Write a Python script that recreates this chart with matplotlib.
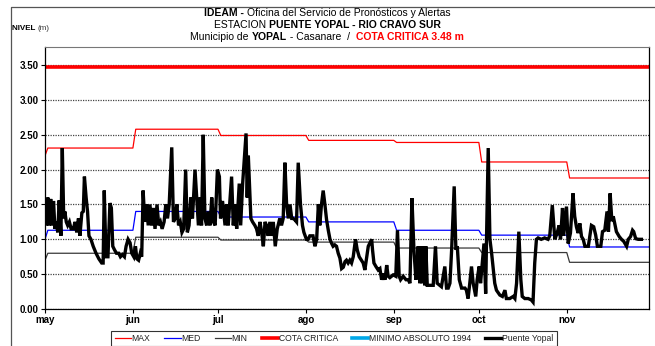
import numpy as np
import matplotlib
matplotlib.use('Agg')
import matplotlib.pyplot as plt
from matplotlib.lines import Line2D

plt.rcParams['font.family'] = ['Liberation Sans', 'DejaVu Sans']

# months shown on the x axis and their lengths in days
meses = ['may', 'jun', 'jul', 'ago', 'sep', 'oct', 'nov']
dias_mes = [31, 30, 31, 31, 30, 31, 30]

# monthly reference levels (abr, may ... nov), in m
nivel_max = [2.20, 2.31, 2.58, 2.49, 2.42, 2.39, 2.11, 1.88]
nivel_med = [1.00, 1.13, 1.40, 1.32, 1.25, 1.13, 1.06, 0.89]
nivel_min = [0.70, 0.80, 1.03, 0.99, 0.96, 0.875, 0.81, 0.67]
cota_critica = 3.48

# Puente Yopal readings: day offset from 1 may, level in m
dias = [0, 0.5, 1, 1.5, 2, 2.5, 3, 3.5, 4, 4.5, 5, 5.6, 6.1, 6.6, 7, 7.5, 8, 8.6, 9.2, 10,
        10.6, 11.2, 11.8, 12.3, 13, 13.5, 13.9, 14.5, 15, 15.5, 16.2, 17, 18, 19, 20, 20.5,
        20.9, 21.5, 22.2, 22.9, 23.4, 23.9, 24.5, 25.2, 26, 26.6, 27.3, 28, 28.6, 29.3, 30,
        30.6, 31.3, 31.9, 32.4, 33, 33.6, 34.1, 34.6, 35.2, 35.8, 36.4, 37, 37.6, 38.2, 38.8,
        39.5, 40.1, 40.7, 41.3, 42, 42.6, 43.2, 43.8, 44.7, 45.3, 45.9, 46.5, 47.1, 47.7,
        48.3, 48.9, 49.6, 50.2, 50.8, 51.4, 52, 52.9, 53.5, 54.1, 54.7, 55.2, 55.8, 56.4, 57,
        57.6, 58.2, 58.8, 59.4, 60, 60.8, 61.5, 61.9, 62.6, 63.5, 64, 64.6, 65.8, 66.4, 67,
        67.6, 68.5, 69, 69.7, 70.2, 70.9, 71.3, 71.7, 72.3, 72.6, 73.2, 74, 74.6, 75.2, 75.8,
        76.4, 77, 77.6, 78.1, 78.7, 79.3, 79.9, 80.5, 81.2, 81.9, 82.8, 83.4, 84, 84.6, 85.2,
        85.8, 86.4, 87, 87.5, 88.1, 88.7, 89.3, 90.1, 90.8, 91.3, 92.2, 92.8, 93.4, 94.5, 95.2,
        95.8, 96.4, 96.9, 97.5, 98.1, 98.7, 99.3, 99.9, 100.5, 101.1, 101.6, 102.2, 102.8,
        103.4, 104, 104.6, 105.2, 105.8, 106.3, 106.9, 107.5, 108.1, 108.7, 109.5, 110.1,
        110.8, 111.6, 112.2, 112.8, 114, 114.6, 115.2, 115.5, 116, 116.7, 117.5, 118.1, 118.7,
        119.3, 119.9, 120.5, 121, 121.6, 122.8, 123.7, 124.3, 124.9, 125.4, 126.3, 127.3,
        128.1, 128.7, 129.4, 130.1, 130.8, 131.2, 131.6, 132.2, 132.5, 133, 133.4, 133.9,
        134.3, 134.8, 135.7, 136.9, 137.7, 138.3, 139.8, 141, 141.6, 142.2, 142.8, 143.4,
        144.3, 144.9, 145.4, 146.1, 146.9, 148.1, 148.6, 149.2, 149.8, 150.4, 151, 151.9,
        152.4, 153.1, 153.6, 154.2, 154.8, 155.4, 155.7, 156.3, 156.9, 157.5, 158, 158.6,
        159.2, 160.4, 161.3, 162.2, 162.7, 163.9, 165.1, 165.7, 166.3, 167.1, 167.8, 168.3,
        169.2, 170.4, 171.5, 172.1, 172.7, 173.3, 173.9, 175, 176.2, 177.4, 178, 178.9, 179.8,
        180.6, 181.3, 181.8, 182.5, 182.9, 183.9, 184.5, 185.3, 186.2, 186.8, 187.4, 188,
        188.6, 189.2, 189.8, 190.4, 191.6, 192.1, 192.7, 193.5, 194.2, 194.8, 196, 196.6,
        197.4, 198.2, 198.7, 199.3, 199.9, 200.4, 201, 201.5, 202.5, 203.3, 204.1, 205.1,
        205.7, 206.5, 207.2, 207.6, 208.3, 209.2, 210.3]
nivel = [1.55, 1.2, 1.6, 1.2, 1.58, 1.2, 1.55, 1.15, 1.25, 1.1, 1.56, 1.05, 2.31, 1.3, 1.4, 1.25,
         1.2, 1.25, 1.15, 1.15, 1.25, 1.1, 1.3, 1.05, 1.38, 1.4, 1.9, 1.6, 1.4, 1.05, 1.0, 0.9,
         0.8, 0.72, 0.66, 0.66, 1.7, 0.75, 0.75, 1.52, 1.45, 0.9, 0.85, 0.8, 0.8, 0.75, 0.78,
         0.75, 0.9, 1.0, 0.95, 0.8, 0.75, 0.9, 0.72, 0.7, 0.8, 0.75, 1.7, 1.25, 1.5, 1.2, 1.5,
         1.2, 1.45, 1.15, 1.5, 1.2, 1.25, 1.15, 1.25, 1.5, 1.3, 1.5, 2.32, 1.25, 1.3, 1.5, 1.2,
         1.25, 1.1, 1.15, 2.0, 1.1, 1.2, 1.6, 1.3, 2.0, 1.6, 1.2, 1.6, 1.2, 2.5, 1.3, 1.2, 1.4,
         1.2, 1.6, 1.25, 1.2, 2.0, 1.9, 1.3, 1.55, 1.2, 1.5, 1.2, 1.9, 1.2, 1.5, 1.15, 1.8, 1.2,
         1.8, 2.1, 2.52, 1.6, 2.2, 1.6, 1.3, 1.25, 1.2, 1.15, 1.05, 1.25, 1.1, 0.9, 1.25, 1.2,
         1.05, 1.25, 1.05, 1.25, 0.9, 1.15, 1.3, 1.2, 1.3, 2.1, 1.5, 1.3, 1.5, 1.3, 1.3, 1.28,
         1.25, 2.1, 1.5, 1.2, 1.1, 1.0, 1.0, 1.05, 1.05, 0.9, 1.0, 1.5, 1.2, 1.5, 1.7, 1.5, 1.28,
         1.13, 1.0, 0.94, 0.9, 0.92, 0.9, 0.8, 0.73, 0.58, 0.6, 0.68, 0.7, 0.66, 0.7, 0.66,
         0.75, 1.0, 0.85, 0.75, 0.7, 0.66, 0.56, 0.9, 0.95, 1.0, 0.85, 0.66, 0.61, 0.56, 0.58,
         0.42, 0.51, 0.42, 0.63, 0.47, 0.45, 0.49, 0.47, 1.13, 0.47, 0.42, 0.47, 0.42, 0.42,
         0.37, 1.59, 0.85, 0.42, 0.56, 0.9, 0.37, 0.9, 0.37, 0.9, 0.34, 0.9, 0.34, 0.34, 0.34,
         0.9, 0.37, 0.32, 0.61, 0.3, 0.3, 0.37, 0.85, 1.76, 0.85, 0.9, 0.42, 0.3, 0.3, 0.27,
         0.15, 0.37, 0.61, 0.37, 0.18, 0.42, 0.61, 0.37, 0.66, 0.94, 0.22, 1.0, 2.31, 1.0, 0.8,
         0.61, 0.37, 0.27, 0.2, 0.18, 0.27, 0.15, 0.15, 0.18, 0.15, 0.37, 1.11, 0.42, 0.18,
         0.15, 0.15, 0.13, 0.1, 0.66, 1.0, 1.02, 1.0, 1.02, 1.0, 1.05, 1.49, 1.0, 1.09, 1.2,
         1.0, 1.45, 1.05, 1.47, 0.94, 1.09, 1.66, 1.33, 1.18, 1.09, 1.23, 1.04, 1.0, 0.9, 0.9,
         1.04, 1.2, 1.18, 1.06, 0.9, 0.9, 1.11, 1.13, 1.4, 1.11, 1.66, 1.26, 1.33, 1.21, 1.11,
         1.04, 1.0, 0.97, 0.9, 1.0, 1.04, 1.13, 1.11, 1.01, 1.0, 1.0]

inicio_mes = np.concatenate([[0], np.cumsum(dias_mes)])
fin = inicio_mes[-1] - 1


def escalones(valores):
    # monthly level held through the month, ramping over the first day
    xs, ys = [0], [valores[0]]
    for k in range(len(meses)):
        s = inicio_mes[k]
        xs += [s, s + 1]
        ys += [valores[k], valores[k + 1]]
    xs.append(fin)
    ys.append(valores[-1])
    return xs, ys


def texto_mixto(fig, x0, y, partes, size=7.5, centrado=True):
    # one line of text built from pieces with their own weight/colour
    r = fig.canvas.get_renderer()
    objs = []
    for s, w, c in partes:
        objs.append(fig.text(0, y, s, fontsize=size, fontweight=w, color=c,
                             va='center', ha='left'))
    anchos = [o.get_window_extent(r).width for o in objs]
    x = x0 - sum(anchos) / 2 if centrado else x0
    for o, a in zip(objs, anchos):
        o.set_x(x / fig.bbox.width)
        x += a


fig = plt.figure(figsize=(6.55, 3.46), dpi=100)
ax = fig.add_axes([45 / 655, 1 - 309 / 346, 604 / 655, 262 / 346])

ax.grid(axis='y', color='#444444', linestyle=(0, (1, 1)), linewidth=0.9)
ax.set_axisbelow(True)

x, y = escalones(nivel_max)
ax.plot(x, y, color='#ff0000', lw=0.9, label='MAX')
x, y = escalones(nivel_med)
ax.plot(x, y, color='#0000ff', lw=0.9, label='MED')
x, y = escalones(nivel_min)
ax.plot(x, y, color='#383838', lw=0.9, label='MIN')
ax.axhline(cota_critica, color='#ff0000', lw=2.6, label='COTA CRITICA')
minimo = Line2D([], [], color='#00a8e8', lw=2.6, label='MINIMO ABSOLUTO 1994')
ax.plot(dias, nivel, color='black', lw=2.4, solid_joinstyle='miter', label='Puente Yopal')

ax.set_xlim(0, fin)
ax.set_ylim(0, 3.76)
ax.set_xticks(inicio_mes[:-1])
ax.set_xticklabels(meses)
ax.set_yticks(np.arange(0, 3.51, 0.5))
ax.set_yticklabels(['%.2f' % v for v in np.arange(0, 3.51, 0.5)])
ax.tick_params(axis='both', labelsize=7, length=3, width=0.8, pad=1.5)
for t in ax.get_xticklabels() + ax.get_yticklabels():
    t.set_fontweight('bold')
for lado in ['left', 'bottom', 'right']:
    ax.spines[lado].set_linewidth(0.9)
ax.spines['top'].set_color('#777777')

h, l = ax.get_legend_handles_labels()
h = h[:4] + [minimo, h[4]]
l = l[:4] + ['MINIMO ABSOLUTO 1994', l[4]]
leg = fig.legend(h, l, ncol=6, loc='center', bbox_to_anchor=(334 / 655, 1 - 338.5 / 346),
                 fontsize=6.2, frameon=True, fancybox=False, edgecolor='black',
                 handlelength=1.9, handletextpad=0.1, columnspacing=1.6,
                 borderpad=0.4, borderaxespad=0)
leg.get_frame().set_linewidth(0.8)
for t in leg.get_texts():
    t.set_color('#222222')

# outer border of the sheet
fig.add_artist(Line2D([11 / 655, 11 / 655, 1], [0, 1 - 7 / 346, 1 - 7 / 346],
                      transform=fig.transFigure, color='#555555', lw=0.9))

fig.canvas.draw()
xc = 327
texto_mixto(fig, xc, 1 - 13 / 346,
            [('IDEAM - ', 'bold', 'black'),
             ('Oficina del Servicio de Pronósticos y Alertas', 'normal', 'black')])
texto_mixto(fig, xc, 1 - 25 / 346,
            [('ESTACION ', 'normal', 'black'),
             ('PUENTE YOPAL - RIO CRAVO SUR', 'bold', 'black')])
texto_mixto(fig, xc, 1 - 37 / 346,
            [('Municipio de ', 'normal', 'black'), ('YOPAL', 'bold', 'black'),
             (' - Casanare  /  ', 'normal', 'black'),
             ('COTA CRITICA 3.48 m', 'bold', '#ff0000')])
texto_mixto(fig, 12, 1 - 29 / 346,
            [('NIVEL ', 'bold', 'black'), ('(m)', 'normal', '#333333')],
            size=5.8, centrado=False)

fig.savefig('out.png', dpi=100)
